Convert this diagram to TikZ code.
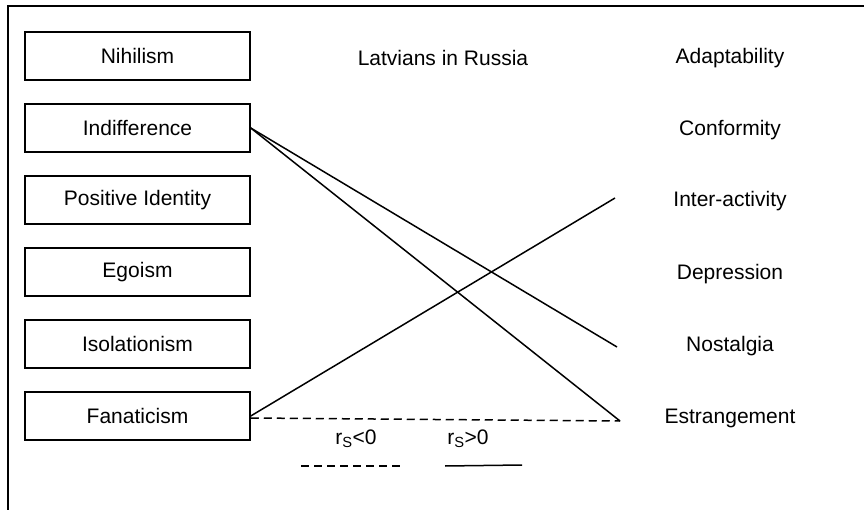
\documentclass[tikz,border=0pt]{standalone}
\usepackage{fontspec}
\setmainfont{Liberation Sans}
\usetikzlibrary{positioning}

\begin{document}
\begin{tikzpicture}[x=1pt, y=-1pt,
    every node/.style={font=\fontsize{21}{25}\selectfont},
    factor/.style={rectangle, draw, line width=1.5pt, minimum width=225pt, minimum height=48pt, inner sep=0pt},
    link/.style={line width=1.5pt},
    neglink/.style={line width=1.5pt, dash pattern=on 8pt off 5pt}]
            \useasboundingbox (0,0) rectangle (864,510);
            % Frame (top and left only)
            \draw[line width=2.8pt] (8,510) -- (8,6) -- (864,6);

            % Boxes on the left
            \node[factor] (nihil) at (137.5,56) {Nihilism};
            \node[factor] (indiff) at (137.5,128) {Indifference};
            \node[factor] (posid) at (137.5,200) {Positive Identity};
            \node[factor] (ego) at (137.5,272) {Egoism};
            \node[factor] (isol) at (137.5,344) {Isolationism};
            \node[factor] (fanat) at (137.5,416) {Fanaticism};

            % Title
            \node (title) at (443,58) {Latvians in Russia};

            % Labels on the right
            \node (adapt) at (730,58) {Adaptability};
            \node (conf) at (730,130) {Conformity};
            \node (inter) at (730,201) {Inter-activity};
            \node (depr) at (730,274) {Depression};
            \node (nost) at (730,346) {Nostalgia};
            \node (estr) at (730,418) {Estrangement};

            % Free ends of the lines
            \coordinate (interEnd) at (615,198);
            \coordinate (nostEnd) at (617,347);
            \coordinate (estrEnd) at (620,421);

            \draw[link] (indiff.east) -- (nostEnd);
            \draw[link] (indiff.east) -- (estrEnd);
            \draw[link] (fanat.east) -- (interEnd);
            \draw[neglink] ([yshift=-2pt]fanat.east) -- (estrEnd);

            % Legend
            \node (neg) at (356,439) {r\textsubscript{S}<0};
            \node (pos) at (468,439) {r\textsubscript{S}>0};
            \coordinate (negA) at (301,466);
            \coordinate (negB) at (402,466);
            \coordinate (posA) at (445,466);
            \coordinate (posB) at (522,465);
            \draw[neglink] (negA) -- (negB);
            \draw[link] (posA) -- (posB);
        \end{tikzpicture}
\end{document}
